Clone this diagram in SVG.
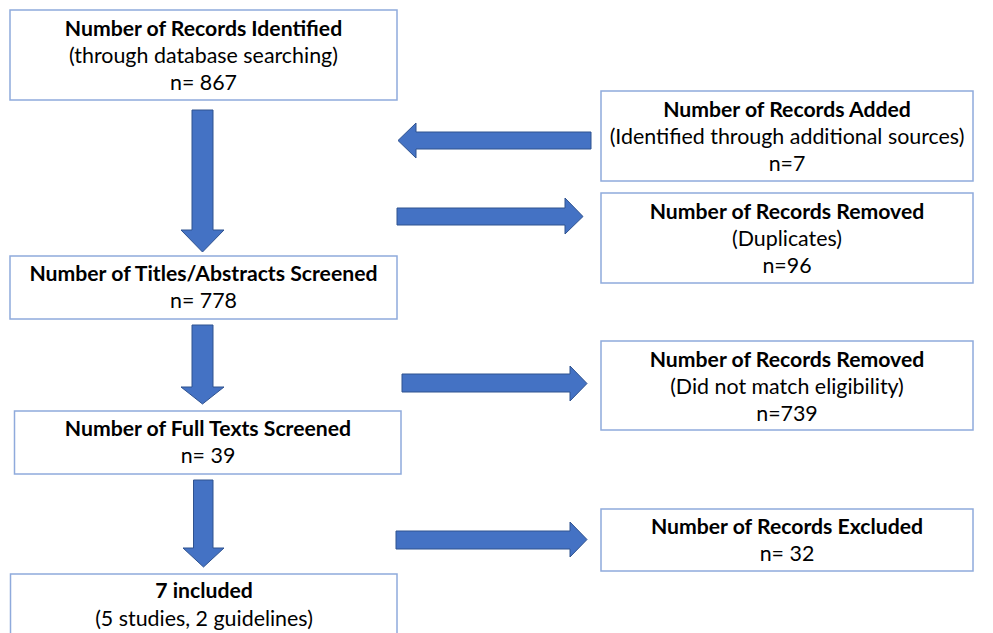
<svg xmlns="http://www.w3.org/2000/svg" width="993" height="633" viewBox="0 0 993 633">
<style>
.box{fill:#fff;stroke:#8FAADC;stroke-width:1.5}
.arr{fill:#4472C4;stroke:#2F528F;stroke-width:1}
text{font-family:Lato,"Open Sans","Liberation Sans",sans-serif;font-size:21.4px;fill:#000;text-anchor:middle}
.b{font-weight:bold;font-size:21.2px}
</style>
<rect width="993" height="633" fill="#fff"/>
<g id="connectors">
<polygon class="arr" points="192,110 213,110 213,230 224,230 202.5,252 181,230 192,230"/>
<polygon class="arr" points="192,325 213,325 213,387 224,387 202.5,404 181,387 192,387"/>
<polygon class="arr" points="193.5,480 213,480 213,548 224,548 203.5,567 183,548 193.5,548"/>
<polygon class="arr" points="591,132 591,149 416,149 416,158 398,140.5 416,123 416,132"/>
<polygon class="arr" points="397,208 565,208 565,198 583,216.5 565,234 565,225 397,225"/>
<polygon class="arr" points="402,374 570,374 570,366 587,383.5 570,401 570,392 402,392"/>
<polygon class="arr" points="396,531 570,531 570,522 587,539.5 570,557 570,549 396,549"/>
</g>
<g id="identified">
<rect class="box" x="10" y="10" width="387" height="90"/>
<text class="b" x="203.5" y="36">Number of Records Identified</text>
<text x="203.5" y="63">(through database searching)</text>
<text x="203.5" y="90">n= 867</text>
</g>
<g id="added">
<rect class="box" x="601" y="91" width="372" height="90"/>
<text class="b" x="787" y="117">Number of Records Added</text>
<text x="787" y="144">(Identified through additional sources)</text>
<text x="787" y="171">n=7</text>
</g>
<g id="duplicates">
<rect class="box" x="601" y="193" width="372" height="90"/>
<text class="b" x="787" y="219">Number of Records Removed</text>
<text x="787" y="246">(Duplicates)</text>
<text x="787" y="273">n=96</text>
</g>
<g id="titles">
<rect class="box" x="10" y="256" width="387" height="63"/>
<text class="b" x="203.5" y="281">Number of Titles/Abstracts Screened</text>
<text x="203.5" y="308">n= 778</text>
</g>
<g id="eligibility">
<rect class="box" x="601" y="341" width="372" height="89"/>
<text class="b" x="787" y="367">Number of Records Removed</text>
<text x="787" y="394">(Did not match eligibility)</text>
<text x="787" y="421">n=739</text>
</g>
<g id="fulltexts">
<rect class="box" x="14.5" y="411" width="386.5" height="63"/>
<text class="b" x="208" y="436">Number of Full Texts Screened</text>
<text x="208" y="463">n= 39</text>
</g>
<g id="excluded">
<rect class="box" x="601" y="509" width="372" height="62"/>
<text class="b" x="787" y="534">Number of Records Excluded</text>
<text x="787" y="561">n= 32</text>
</g>
<g id="included">
<rect class="box" x="10.5" y="574" width="386.5" height="70"/>
<text class="b" x="204" y="598">7 included</text>
<text x="204" y="626">(5 studies, 2 guidelines)</text>
</g>
</svg>
